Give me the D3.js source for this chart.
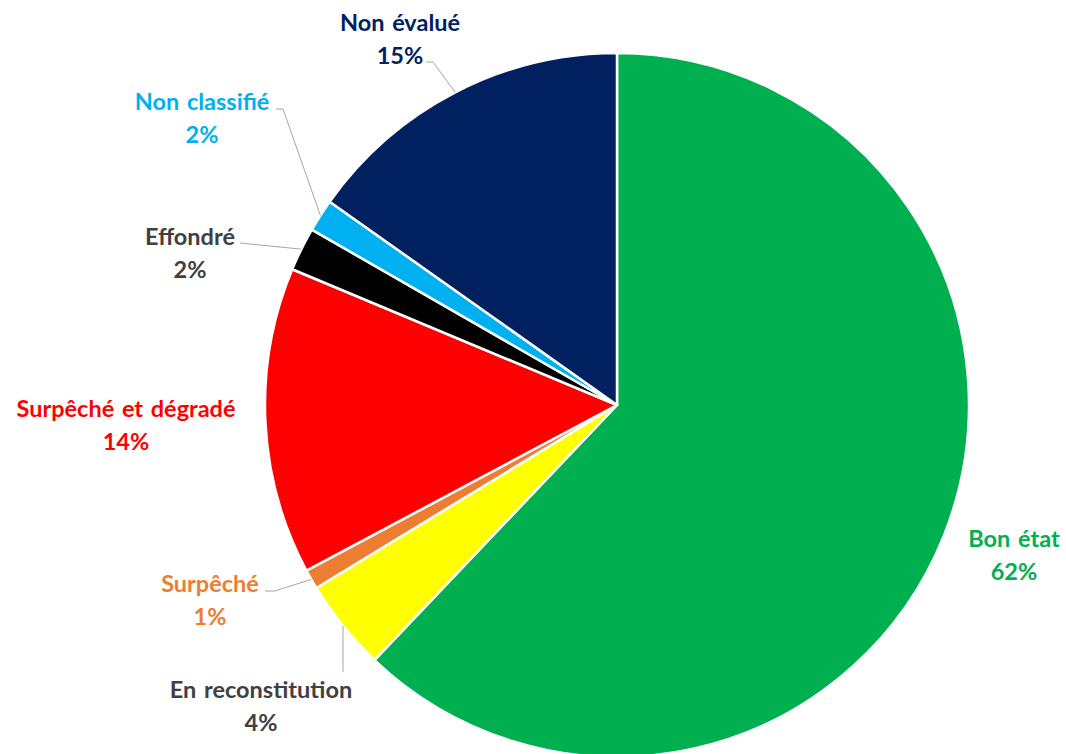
<!DOCTYPE html>
<html>
<head>
<meta charset="utf-8">
<script src="https://cdn.jsdelivr.net/npm/d3@7"></script>
<style>
  body { margin: 0; background: #fff; }
  svg { display: block; }
</style>
</head>
<body>
<div id="chart"></div>
<script>
// valeurs (en %)
var categories = ["Bon état", "En reconstitution", "Surpêché", "Surpêché et dégradé", "Effondré", "Non classifié", "Non évalué"];
var values = [62.1, 4.2, 0.9, 14.1, 2.0, 1.5, 15.2];
var colors = ["#00B050", "#FFFF00", "#ED7D31", "#FF0000", "#000000", "#00B0F0", "#002060"];
var labelColors = ["#00B050", "#404040", "#ED7D31", "#FF0000", "#404040", "#00B0F0", "#002060"];

// placement des etiquettes (centre du texte, baseline de la 1re ligne) + coude de la ligne de rappel
var labelLayout = [
  { x: 1014, y: 547, elbow: null },
  { x: 261, y: 698, elbow: [343, 672] },
  { x: 210, y: 592, elbow: [275, 591], end: [265, 591] },
  { x: 126, y: 417, elbow: null },
  { x: 190, y: 245, elbow: null, end: [240, 243] },
  { x: 202, y: 110, elbow: [283, 109], end: [276, 109] },
  { x: 400, y: 31, elbow: [433, 62], end: [426, 62] }
];

var width = 1066, height = 754;
var cx = 617, cy = 405, radius = 352;
var lineGap = 33;

var data = categories.map((c, i) => ({ name: c, value: values[i], i: i }));

var svg = d3.select("#chart").append("svg")
  .attr("width", width)
  .attr("height", height);

var pie = d3.pie().sort(null).value(d => d.value);
var arcs = pie(data);

var arc = d3.arc().innerRadius(0).outerRadius(radius);

var g = svg.append("g").attr("transform", "translate(" + cx + "," + cy + ")");

g.selectAll("path")
  .data(arcs)
  .join("path")
    .attr("d", arc)
    .attr("fill", d => colors[d.data.i])
    .attr("stroke", "#ffffff")
    .attr("stroke-width", 2.5)
    .attr("stroke-linejoin", "round");

// lignes de rappel
arcs.forEach(a => {
  var L = labelLayout[a.data.i];
  if (!L.elbow && !L.end) return;
  var mid = (a.startAngle + a.endAngle) / 2;
  var p0 = [cx + radius * Math.sin(mid), cy - radius * Math.cos(mid)];
  var pts = [p0];
  if (L.elbow) pts.push(L.elbow);
  if (L.end) pts.push(L.end);
  svg.append("path")
    .attr("d", d3.line()(pts))
    .attr("fill", "none")
    .attr("stroke", "#A6A6A6")
    .attr("stroke-width", 1);
});

// etiquettes
var labels = svg.append("g")
  .attr("font-family", "Lato, 'Open Sans', sans-serif")
  .attr("font-weight", "bold")
  .attr("font-size", "23.5px")
  .attr("text-anchor", "middle");

arcs.forEach(a => {
  var L = labelLayout[a.data.i];
  var t = labels.append("text")
    .attr("fill", labelColors[a.data.i]);
  t.append("tspan")
    .attr("x", L.x).attr("y", L.y)
    .attr("word-spacing", "2px")
    .text(a.data.name);
  t.append("tspan")
    .attr("x", L.x).attr("y", L.y + lineGap)
    .text(Math.round(a.data.value) + "%");
});
</script>
</body>
</html>
